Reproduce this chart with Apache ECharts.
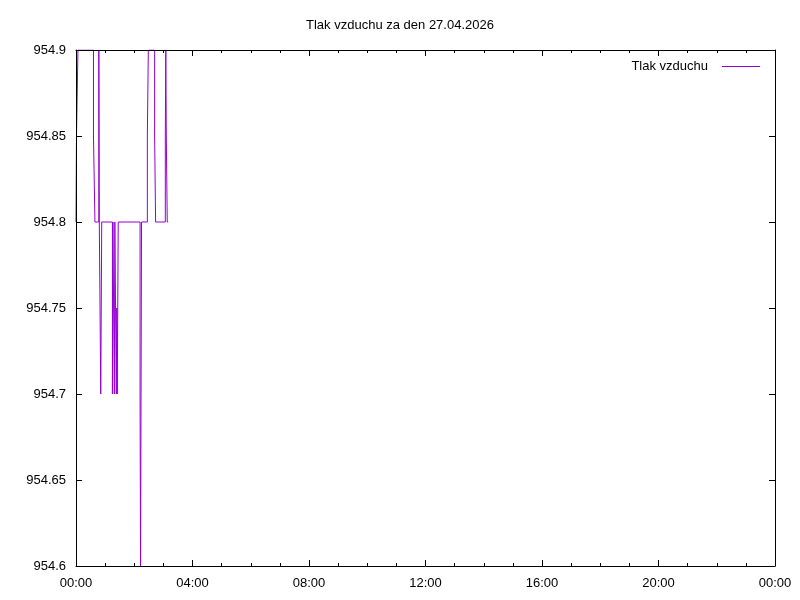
<!DOCTYPE html>
<html>
<head>
<meta charset="utf-8">
<script src="https://cdn.jsdelivr.net/npm/echarts@6/dist/echarts.min.js"></script>
<style>html,body{margin:0;padding:0;background:#fff}#c{width:800px;height:600px}</style>
</head>
<body>
<div id="c"></div>
<script>
const chartTitle = 'Tlak vzduchu za den 27.04.2026';
const seriesName = 'Tlak vzduchu';
// minute since 00:00 at which the reading takes the given value
const minutes = [0, 1, 4, 36, 39, 47, 48, 51, 52, 53,
  75, 76, 79, 80, 83, 84, 85, 86, 87,
  132, 133, 134, 135, 147, 149,
  162, 164, 184, 185, 186, 188, 190];
const pressure = [954.8, 954.85, 954.9, 954.85, 954.8, 954.9, 954.8, 954.7, 954.75, 954.8,
  954.7, 954.8, 954.7, 954.8, 954.7, 954.75, 954.7, 954.75, 954.8,
  954.7, 954.6, 954.7, 954.8, 954.85, 954.9,
  954.85, 954.8, 954.85, 954.9, 954.85, 954.8, 954.8];
const xTickLabels = ['00:00', '04:00', '08:00', '12:00', '16:00', '20:00', '00:00'];
const yMin = 954.6, yMax = 954.9, yStep = 0.05;

// readings hold their value until the next change: vertical step at each change minute
const stepData = [];
minutes.forEach((m, i) => {
  if (i > 0) stepData.push([m, pressure[i - 1]]);
  stepData.push([m, pressure[i]]);
});

const font = 'Liberation Sans, Arial, sans-serif';
const chart = echarts.init(document.getElementById('c'), null, {renderer: 'canvas'});
function xAxisDef(pos, labels) {
  return {
    type: 'value', position: pos, min: 0, max: 1440, interval: 240,
    axisLine: {show: true, onZero: false, lineStyle: {color: '#000', width: 1}},
    splitLine: {show: false},
    axisTick: {show: true, inside: true, length: 6, lineStyle: {color: '#000', width: 1}},
    minorTick: {show: true, splitNumber: 4, length: 3, lineStyle: {color: '#000', width: 1}},
    axisLabel: labels ? {show: true, margin: 11, fontFamily: font, fontSize: 13, color: '#000',
      formatter: v => xTickLabels[Math.round(v / 240)]} : {show: false},
    z: 5
  };
}
function yAxisDef(pos, labels) {
  return {
    type: 'value', position: pos, min: yMin, max: yMax, interval: yStep,
    axisLine: {show: true, onZero: false, lineStyle: {color: '#000', width: 1}},
    splitLine: {show: false},
    axisTick: {show: true, inside: true, length: 6, lineStyle: {color: '#000', width: 1}},
    axisLabel: labels ? {show: true, margin: 10, fontFamily: font, fontSize: 13, color: '#000',
      formatter: v => String(parseFloat(v.toFixed(2)))} : {show: false},
    z: 5
  };
}
chart.setOption({
  animation: false,
  backgroundColor: '#fff',
  title: {text: chartTitle, left: 'center', top: 19, padding: 0,
    textStyle: {fontFamily: font, fontSize: 13, fontWeight: 'normal', color: '#000'}},
  legend: {right: 40, top: 60, padding: 0, align: 'right', itemWidth: 38, itemHeight: 1, itemGap: 5,
    icon: 'path://M0,0H38V1H0Z',
    itemStyle: {color: '#9400d3'},
    textStyle: {fontFamily: font, fontSize: 13, color: '#000', padding: [0, 9, 0, 0]},
    data: [seriesName]},
  grid: {left: 76, right: 25, top: 50, bottom: 34, containLabel: false},
  xAxis: [xAxisDef('bottom', true), xAxisDef('top', false)],
  yAxis: [yAxisDef('left', true), yAxisDef('right', false)],
  series: [{
    name: seriesName, type: 'line', xAxisIndex: 0, yAxisIndex: 0,
    symbol: 'none', showSymbol: false, z: 2, sampling: null,
    itemStyle: {color: '#9400d3'},
    lineStyle: {color: '#9400d3', width: 1},
    data: stepData
  }]
});
</script>
</body>
</html>
